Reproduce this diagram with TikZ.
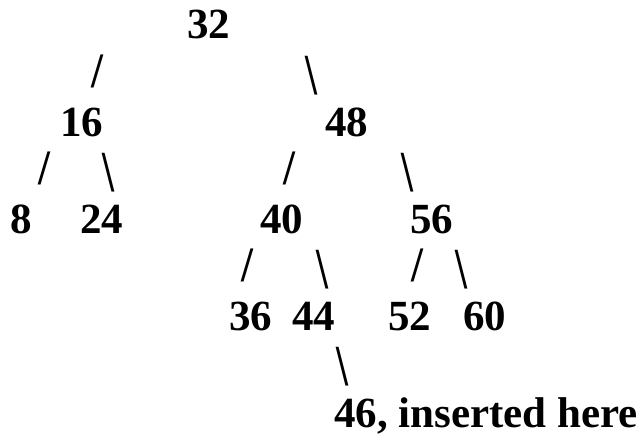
\documentclass[tikz,border=0pt]{standalone}
\usepackage{fontspec}
\setmainfont{Liberation Serif}
\begin{document}
\begin{tikzpicture}[x=1pt,y=1pt,
  txt/.style={anchor=base west,inner sep=0pt,outer sep=0pt,font=\fontsize{43}{49}\selectfont\bfseries},
  fwd/.style={txt,yscale=1.15},
  bwd/.style={txt,yscale=1.35,yshift=-5pt}]
\useasboundingbox (0,0) rectangle (641,437);
\def\bl#1{437-39-48.6*#1}
% row 0
\node[txt] (n32) at (187,{\bl{0}}) {32};
% row 1
\node[fwd] (s32l) at (91,{\bl{1}}) {/};
\node[bwd] (s32r) at (305,{\bl{1}}) {\textbackslash};
% row 2
\node[txt] (n16) at (60,{\bl{2}}) {16};
\node[txt] (n48) at (325,{\bl{2}}) {48};
% row 3
\node[fwd] (s16l) at (38,{\bl{3}}) {/};
\node[bwd] (s16r) at (102,{\bl{3}}) {\textbackslash};
\node[fwd] (s48l) at (283,{\bl{3}}) {/};
\node[bwd] (s48r) at (401,{\bl{3}}) {\textbackslash};
% row 4
\node[txt] (n8) at (10,{\bl{4}}) {8};
\node[txt] (n24) at (80,{\bl{4}}) {24};
\node[txt] (n40) at (260,{\bl{4}}) {40};
\node[txt] (n56) at (410,{\bl{4}}) {56};
% row 5
\node[fwd] (s40l) at (241,{\bl{5}}) {/};
\node[bwd] (s40r) at (316,{\bl{5}}) {\textbackslash};
\node[fwd] (s56l) at (411,{\bl{5}}) {/};
\node[bwd] (s56r) at (455,{\bl{5}}) {\textbackslash};
% row 6
\node[txt] (n36) at (229,{\bl{6}}) {36};
\node[txt] (n44) at (292,{\bl{6}}) {44};
\node[txt] (n52) at (388,{\bl{6}}) {52};
\node[txt] (n60) at (463,{\bl{6}}) {60};
% row 7
\node[bwd] (s44r) at (336,{\bl{7}}) {\textbackslash};
% row 8
\node[txt] (n46) at (334,{\bl{8}}) {46, inserted here};
\end{tikzpicture}
\end{document}
